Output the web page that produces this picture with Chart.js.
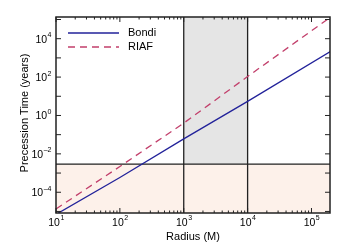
<!DOCTYPE html>
<html>
<head>
<meta charset="utf-8">
<script src="https://cdn.jsdelivr.net/npm/chart.js@4"></script>
<style>
  html, body { margin: 0; padding: 0; background: #fff; }
  #wrap { width: 346px; height: 251px; }
</style>
</head>
<body>
<div id="wrap"><canvas id="chart" width="346" height="251"></canvas></div>
<script>
// values
const radius = [10, 100, 1000, 10000, 200000];
const bondi = [7e-6, 5.9e-4, 0.06, 5.4, 2200];
const riaf = [1.35e-5, 2.2e-3, 0.4, 107, 1.35e5];
const xTickLabels = [1, 2, 3, 4, 5];          // exponents labelled on x
const yTickLabels = [-4, -2, 0, 2, 4];        // exponents labelled on y
const shadeRadius = [1000, 10000];            // grey band
const timeLimit = 2.9e-3;                     // horizontal line / pink region

const FONT = '"Liberation Sans", Arial, Helvetica, sans-serif';
const sup = { '-': '\u207B', '0': '\u2070', '1': '\u00B9', '2': '\u00B2', '3': '\u00B3', '4': '\u2074', '5': '\u2075' };

function drawPow(ctx, x, y, e, align) {
  const base = '10', ex = String(e);
  ctx.font = '10.5px ' + FONT;
  const bw = ctx.measureText(base).width;
  ctx.font = '7px ' + FONT;
  const ew = ctx.measureText(ex.replace('-', '\u2013')).width;
  let x0 = align === 'right' ? x - bw - ew : x - (bw + ew) / 2;
  ctx.fillStyle = '#000';
  ctx.textAlign = 'left';
  ctx.textBaseline = 'middle';
  ctx.font = '10.5px ' + FONT;
  ctx.fillText(base, x0, y);
  ctx.font = '7px ' + FONT;
  ctx.fillText(ex.replace('-', '\u2013'), x0 + bw + 0.5, y - 4.5);
}

const decor = {
  id: 'decor',
  beforeDatasetsDraw(chart) {
    const { ctx, chartArea: a, scales: { x, y } } = chart;
    const yl = y.getPixelForValue(timeLimit);
    ctx.save();
    ctx.fillStyle = '#fdf1ea';
    ctx.fillRect(a.left, yl, a.right - a.left, a.bottom - yl);
    const x1 = x.getPixelForValue(shadeRadius[0]), x2 = x.getPixelForValue(shadeRadius[1]);
    ctx.fillStyle = '#e5e5e5';
    ctx.fillRect(x1, a.top, x2 - x1, yl - a.top);
    ctx.strokeStyle = '#222';
    ctx.lineWidth = 1.3;
    ctx.beginPath();
    ctx.moveTo(a.left, yl); ctx.lineTo(a.right, yl);
    ctx.moveTo(x1, a.top); ctx.lineTo(x1, a.bottom);
    ctx.moveTo(x2, a.top); ctx.lineTo(x2, a.bottom);
    ctx.stroke();
    ctx.restore();
  },
  afterDatasetsDraw(chart) {
    const { ctx, chartArea: a, scales: { x, y } } = chart;
    ctx.save();
    // frame
    ctx.strokeStyle = '#222';
    ctx.lineWidth = 1.5;
    ctx.strokeRect(a.left, a.top, a.right - a.left, a.bottom - a.top);
    // x ticks, inward, top and bottom
    ctx.lineWidth = 1;
    ctx.beginPath();
    for (let e = 1; e <= 5; e++) {
      for (let m = 1; m <= 9; m++) {
        const v = m * Math.pow(10, e);
        if (v > x.max) break;
        const px = x.getPixelForValue(v);
        const len = m === 1 ? 5 : 2.5;
        ctx.moveTo(px, a.bottom); ctx.lineTo(px, a.bottom - len);
        ctx.moveTo(px, a.top); ctx.lineTo(px, a.top + len);
      }
    }
    // y ticks, every decade
    for (let e = -5; e <= 5; e++) {
      const v = Math.pow(10, e);
      if (v < y.min || v > y.max) continue;
      const py = y.getPixelForValue(v);
      ctx.moveTo(a.left, py); ctx.lineTo(a.left + 5, py);
      ctx.moveTo(a.right, py); ctx.lineTo(a.right - 5, py);
    }
    ctx.stroke();
    // tick labels
    xTickLabels.forEach(e => drawPow(ctx, x.getPixelForValue(Math.pow(10, e)), a.bottom + 10, e, 'center'));
    yTickLabels.forEach(e => drawPow(ctx, a.left - 5, y.getPixelForValue(Math.pow(10, e)) + 1, e, 'right'));
    // axis titles
    ctx.fillStyle = '#000';
    ctx.font = '11px ' + FONT;
    ctx.textAlign = 'center';
    ctx.textBaseline = 'middle';
    ctx.fillText('Radius (M)', (a.left + a.right) / 2, 237);
    ctx.translate(25, (a.top + a.bottom) / 2 - 2);
    ctx.rotate(-Math.PI / 2);
    ctx.fillText('Precession Time (years)', 0, 0);
    ctx.restore();
    // legend
    ctx.save();
    ctx.lineWidth = 1.3;
    ctx.strokeStyle = '#22229a';
    ctx.beginPath(); ctx.moveTo(68, 33); ctx.lineTo(119, 33); ctx.stroke();
    ctx.strokeStyle = '#c23f6b';
    ctx.setLineDash([7, 5]);
    ctx.beginPath(); ctx.moveTo(68, 47); ctx.lineTo(119, 47); ctx.stroke();
    ctx.setLineDash([]);
    ctx.fillStyle = '#000';
    ctx.font = '11px ' + FONT;
    ctx.textAlign = 'left';
    ctx.textBaseline = 'middle';
    ctx.fillText('Bondi', 128, 33);
    ctx.fillText('RIAF', 128, 47);
    ctx.restore();
  }
};

const ctx = document.getElementById('chart').getContext('2d');
const chart = new Chart(ctx, {
  type: 'scatter',
  data: {
    datasets: [{
      label: 'Bondi',
      data: radius.map((r, i) => ({ x: r, y: bondi[i] })),
      showLine: true,
      borderColor: '#22229a',
      borderWidth: 1.3,
      pointRadius: 0
    }, {
      label: 'RIAF',
      data: radius.map((r, i) => ({ x: r, y: riaf[i] })),
      showLine: true,
      borderColor: '#c23f6b',
      borderWidth: 1.3,
      borderDash: [7, 5],
      pointRadius: 0
    }]
  },
  options: {
    responsive: false,
    animation: false,
    layout: { padding: { left: 56, right: 16, top: 17, bottom: 38 } },
    plugins: { legend: { display: false }, tooltip: { enabled: false } },
    scales: {
      x: { type: 'logarithmic', min: 10, max: 1.95e5, display: false },
      y: { type: 'logarithmic', min: 8.3e-6, max: 1.35e5, display: false }
    }
  },
  plugins: [decor]
});
</script>
</body>
</html>
